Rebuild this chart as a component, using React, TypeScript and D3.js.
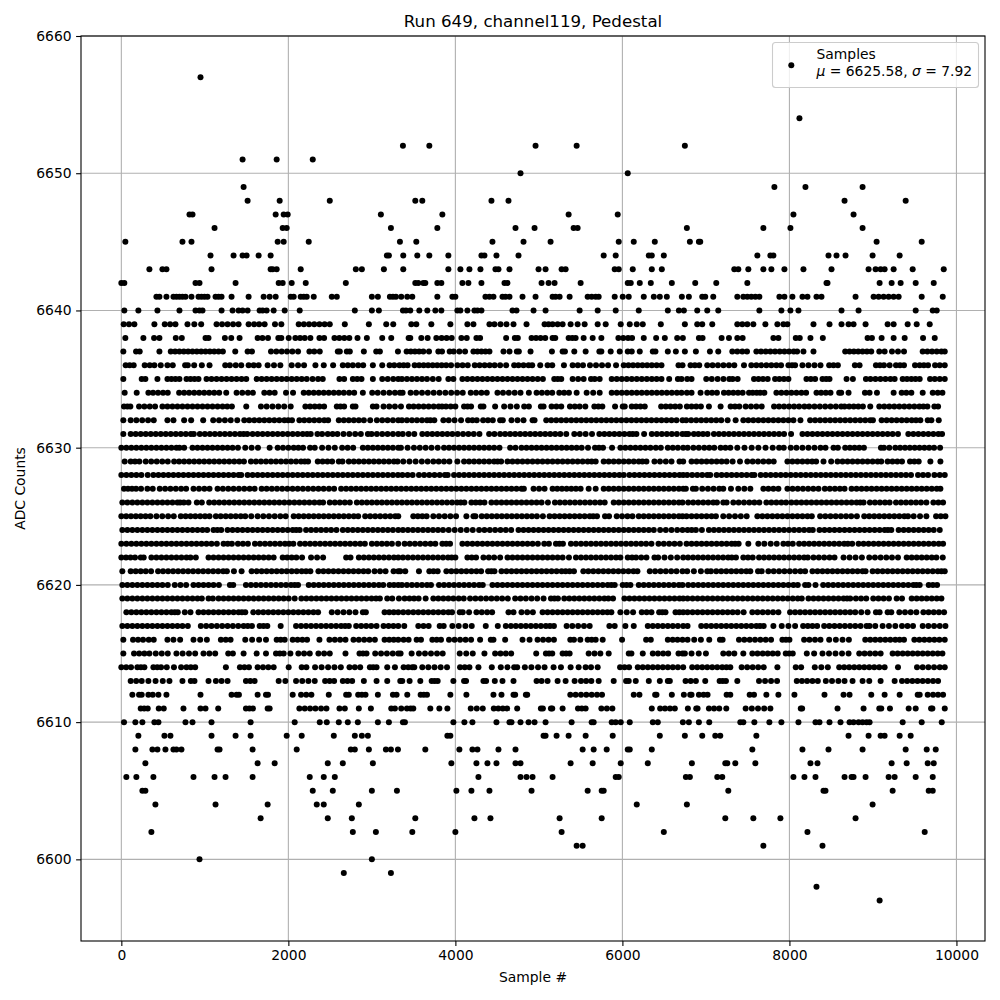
import * as d3 from "d3";
import React, { useEffect, useRef } from "react";

// sample numbers, one list per ADC level
const adc6657 = [948];
const adc6654 = [8120];
const adc6652 = [3372, 3688, 4960, 5452, 6748];
const adc6651 = [1452, 1860, 2292];
const adc6650 = [4780, 6064];
const adc6649 = [1464, 7820, 8192, 8876];
const adc6648 = [1512, 1896, 2496, 3520, 3604, 4432, 4636, 8660, 9392];
const adc6647 = [816, 852, 1848, 1944, 1992, 3108, 3844, 5356, 5944, 8048, 8768];
const adc6646 = [1116, 1932, 1980, 3228, 3784, 4720, 4948, 5416, 5464, 6772, 7688, 8012, 8876];
const adc6645 = [48, 732, 840, 1872, 1944, 2244, 3336, 3532, 4444, 4816, 5140, 5956, 6136, 6388, 6808, 6916, 6932, 9044, 9584];
const adc6644 = [1068, 1344, 1452, 1500, 1644, 1788, 3180, 3204, 3376, 3544, 3688, 3916, 4312, 4348, 4492, 4756, 5776, 5920, 6316, 6352, 6496, 7616, 7772, 7808, 8468, 8564, 8672, 8996, 9320];
const adc6643 = [336, 492, 540, 1080, 1788, 1812, 1860, 2148, 2808, 2880, 3144, 3376, 3916, 4060, 4168, 4300, 4480, 4516, 4648, 4996, 5080, 5272, 5320, 5908, 5956, 6124, 6352, 6472, 7340, 7388, 7508, 7688, 7784, 7940, 8168, 8504, 8948, 9032, 9092, 9140, 9248, 9476, 9848];
const adc6642 = [0, 36, 888, 936, 1368, 1884, 1932, 2040, 2208, 2688, 3520, 3556, 3616, 3640, 3784, 3832, 4084, 4156, 4312, 4588, 4624, 5032, 5116, 5188, 5500, 6064, 6100, 6208, 6340, 6592, 6872, 7124, 7496, 8444, 8456, 9080, 9224, 9332, 9512, 9728];
const adc6641 = [420, 456, 540, 624, 660, 696, 732, 768, 840, 924, 960, 996, 1032, 1128, 1164, 1200, 1320, 1524, 1704, 1776, 1848, 2028, 2064, 2148, 2184, 2220, 2304, 2520, 2580, 3000, 3072, 3216, 3252, 3288, 3352, 3424, 3484, 3784, 3964, 4000, 4360, 4408, 4456, 4564, 4600, 4648, 4804, 4960, 5164, 5200, 5248, 5368, 5584, 5632, 5680, 5716, 5908, 6004, 6076, 6256, 6376, 6448, 6532, 6712, 6796, 6956, 6992, 7088, 7376, 7448, 7496, 7544, 7592, 7640, 7880, 7940, 8036, 8156, 8216, 8324, 8384, 8792, 9008, 9068, 9128, 9188, 9248, 9308, 9584, 9836];
const adc6640 = [36, 204, 432, 696, 888, 936, 972, 1200, 1332, 1404, 1452, 1512, 1656, 1692, 1740, 1824, 1956, 2136, 2796, 3000, 3084, 3372, 3408, 3460, 3568, 3664, 3760, 3832, 4024, 4060, 4144, 4228, 4264, 4312, 4684, 4732, 4936, 5080, 5488, 5704, 5920, 6196, 6544, 6676, 6736, 6896, 7016, 7148, 7640, 7904, 8012, 8108, 8624, 8828, 9512, 9716, 9764];
const adc6639 = [28, 92, 156, 396, 520, 584, 648, 792, 874, 956, 1140, 1206, 1272, 1338, 1404, 1524, 1590, 1650, 1716, 1840, 1916, 2124, 2186, 2248, 2310, 2372, 2434, 2496, 2676, 2964, 3172, 3256, 3472, 3532, 3712, 3940, 4144, 4216, 4408, 4468, 4540, 4612, 4696, 4852, 5068, 5116, 5164, 5224, 5284, 5380, 5464, 5548, 5704, 5800, 5980, 6088, 6172, 6244, 6460, 6748, 6896, 6956, 7076, 7376, 7436, 7496, 7568, 7712, 7856, 7928, 7976, 8288, 8480, 8624, 8708, 8768, 8912, 9176, 9248, 9416, 9524, 9680];
const adc6638 = [48, 264, 392, 456, 652, 724, 1008, 1044, 1240, 1316, 1416, 1632, 1690, 1756, 1880, 1916, 2004, 2084, 2140, 2196, 2264, 2372, 2428, 2552, 2610, 2670, 2730, 2828, 2940, 3124, 3232, 3440, 3460, 3592, 3668, 3772, 3835, 3895, 3956, 4072, 4136, 4252, 4296, 4608, 4712, 4748, 4912, 4966, 5020, 5076, 5164, 5196, 5356, 5400, 5440, 5536, 5644, 5748, 5952, 6010, 6068, 6116, 6256, 6404, 6508, 6656, 6724, 6916, 6960, 7188, 7276, 7376, 7440, 7808, 7868, 8076, 8124, 8252, 8400, 8936, 8988, 9104, 9248, 9380, 9600, 9740];
const adc6637 = [24, 176, 220, 456, 592, 644, 696, 748, 800, 852, 904, 956, 1008, 1060, 1112, 1164, 1216, 1364, 1512, 1564, 1792, 1856, 1920, 1984, 2048, 2116, 2252, 2310, 2376, 2592, 2616, 2700, 2736, 2904, 3052, 3096, 3312, 3416, 3466, 3516, 3566, 3616, 3684, 3796, 3840, 3932, 3980, 4048, 4116, 4216, 4264, 4312, 4360, 4408, 4576, 4648, 4736, 4760, 4900, 5156, 5284, 5312, 5424, 5560, 5724, 5748, 5860, 5968, 6064, 6112, 6208, 6364, 6396, 6544, 6640, 6748, 6880, 7048, 7148, 7316, 7376, 7436, 7492, 7604, 7660, 7716, 7772, 7828, 7884, 7940, 7996, 8052, 8092, 8168, 8288, 8668, 8720, 8772, 8824, 8876, 8928, 8980, 9076, 9140, 9228, 9300, 9372, 9596, 9652, 9708, 9764, 9820, 9860];
const adc6636 = [52, 100, 148, 280, 340, 396, 472, 552, 616, 764, 796, 872, 964, 1056, 1244, 1300, 1370, 1436, 1524, 1584, 1644, 1752, 1828, 1904, 2040, 2116, 2188, 2324, 2424, 2536, 2652, 2712, 2772, 2836, 2896, 3012, 3124, 3212, 3268, 3330, 3380, 3428, 3512, 3566, 3620, 3674, 3728, 3782, 3836, 3890, 3948, 4024, 4086, 4148, 4232, 4290, 4350, 4410, 4470, 4536, 4608, 4704, 4756, 4816, 4876, 4920, 5016, 5104, 5160, 5300, 5404, 5466, 5528, 5612, 5684, 5756, 5828, 5924, 6016, 6072, 6128, 6184, 6240, 6296, 6352, 6410, 6468, 6672, 6720, 6816, 6868, 6920, 7016, 7080, 7144, 7210, 7276, 7340, 7456, 7544, 7604, 7664, 7724, 7784, 7844, 7900, 7988, 8032, 8068, 8156, 8228, 8300, 8372, 8476, 8528, 8580, 8784, 8840, 9036, 9084, 9132, 9200, 9276, 9324, 9372, 9504, 9560, 9610, 9660, 9744, 9800, 9860];
const adc6635 = [24, 244, 288, 432, 552, 600, 648, 696, 780, 828, 876, 924, 1020, 1080, 1140, 1200, 1260, 1320, 1380, 1440, 1496, 1620, 1680, 1740, 1800, 1860, 1920, 1980, 2040, 2100, 2160, 2220, 2290, 2356, 2412, 2612, 2668, 2772, 2824, 2876, 3012, 3124, 3190, 3256, 3316, 3360, 3420, 3480, 3540, 3600, 3660, 3730, 3800, 3916, 3976, 4084, 4144, 4204, 4264, 4324, 4384, 4444, 4504, 4564, 4624, 4684, 4744, 4804, 4864, 4924, 4986, 5048, 5184, 5226, 5268, 5404, 5470, 5536, 5624, 5668, 5728, 5872, 5932, 5992, 6052, 6112, 6172, 6232, 6292, 6352, 6410, 6468, 6560, 6664, 6708, 6776, 6828, 7004, 7070, 7140, 7210, 7280, 7320, 7380, 7576, 7630, 7684, 7740, 7828, 7880, 7934, 7988, 8204, 8256, 8308, 8396, 8440, 8480, 8684, 8760, 8916, 8970, 9030, 9090, 9150, 9210, 9260, 9356, 9408, 9460, 9510, 9560, 9684, 9740, 9800, 9860];
const adc6634 = [40, 184, 324, 380, 440, 500, 556, 692, 752, 812, 872, 932, 992, 1052, 1112, 1172, 1256, 1380, 1448, 1516, 1576, 1712, 1774, 1836, 1972, 2056, 2184, 2244, 2304, 2364, 2424, 2484, 2544, 2604, 2664, 2728, 2788, 2892, 3004, 3070, 3140, 3210, 3276, 3336, 3368, 3464, 3530, 3600, 3670, 3740, 3810, 3880, 3950, 4020, 4088, 4184, 4248, 4312, 4376, 4504, 4570, 4640, 4710, 4780, 4880, 4972, 5036, 5100, 5160, 5244, 5302, 5360, 5452, 5572, 5650, 5728, 5872, 5932, 5992, 6052, 6112, 6172, 6232, 6292, 6352, 6412, 6472, 6532, 6592, 6652, 6708, 6772, 6828, 6936, 7016, 7074, 7132, 7216, 7272, 7328, 7384, 7440, 7516, 7560, 7608, 7650, 7700, 7844, 7904, 7964, 8024, 8084, 8144, 8200, 8324, 8380, 8436, 8492, 8596, 8620, 8708, 8904, 8960, 9048, 9248, 9344, 9400, 9460, 9596, 9716, 9776, 9832];
const adc6633 = [32, 72, 108, 212, 276, 340, 404, 492, 552, 612, 672, 732, 792, 852, 912, 972, 1032, 1092, 1152, 1212, 1268, 1324, 1496, 1672, 1740, 1810, 1880, 1950, 2028, 2204, 2260, 2316, 2372, 2428, 2580, 2624, 2668, 2772, 2804, 3012, 3056, 3140, 3208, 3276, 3348, 3444, 3500, 3560, 3620, 3680, 3740, 3800, 3840, 3888, 3944, 4000, 4104, 4146, 4188, 4304, 4336, 4476, 4584, 4660, 4736, 4824, 4880, 5024, 5056, 5152, 5210, 5268, 5372, 5430, 5488, 5556, 5664, 5712, 5760, 5912, 6004, 6028, 6112, 6164, 6216, 6268, 6464, 6520, 6576, 6632, 6688, 6772, 6828, 6884, 6940, 7036, 7176, 7296, 7348, 7400, 7476, 7540, 7604, 7668, 7816, 7876, 7936, 7996, 8056, 8116, 8180, 8236, 8300, 8364, 8428, 8492, 8556, 8620, 8660, 8716, 8770, 8825, 8880, 8968, 9076, 9136, 9196, 9256, 9316, 9376, 9436, 9496, 9556, 9604, 9652, 9736, 9780];
const adc6632 = [24, 112, 180, 250, 320, 388, 552, 624, 752, 836, 980, 1100, 1170, 1240, 1310, 1388, 1472, 1532, 1592, 1652, 1712, 1772, 1832, 1892, 1952, 1998, 2044, 2132, 2190, 2250, 2310, 2370, 2430, 2476, 2604, 2664, 2724, 2784, 2844, 2904, 2980, 3060, 3124, 3188, 3252, 3316, 3360, 3420, 3480, 3540, 3600, 3660, 3700, 3748, 3856, 3920, 3990, 4068, 4152, 4204, 4256, 4332, 4390, 4448, 4536, 4568, 4672, 4744, 4816, 4924, 4948, 5088, 5148, 5208, 5268, 5328, 5388, 5448, 5508, 5568, 5628, 5688, 5748, 5808, 5868, 5928, 5988, 6048, 6108, 6168, 6228, 6288, 6348, 6408, 6468, 6528, 6588, 6648, 6720, 6764, 6824, 6884, 6944, 7004, 7064, 7124, 7184, 7260, 7356, 7448, 7508, 7568, 7628, 7688, 7748, 7808, 7868, 7928, 7988, 8048, 8132, 8248, 8308, 8368, 8428, 8488, 8548, 8608, 8668, 8728, 8788, 8848, 8908, 8968, 9000, 9104, 9164, 9224, 9284, 9344, 9404, 9464, 9516, 9568, 9656, 9700, 9788];
const adc6631 = [24, 112, 172, 232, 292, 352, 412, 472, 532, 592, 652, 712, 772, 832, 868, 940, 1000, 1060, 1120, 1180, 1240, 1300, 1360, 1420, 1464, 1508, 1572, 1632, 1692, 1752, 1812, 1872, 1932, 1992, 2052, 2112, 2172, 2224, 2268, 2348, 2404, 2472, 2530, 2588, 2660, 2730, 2800, 2868, 2952, 2996, 3060, 3124, 3188, 3252, 3316, 3370, 3440, 3508, 3604, 3664, 3724, 3784, 3844, 3904, 3964, 4028, 4092, 4156, 4220, 4288, 4404, 4468, 4536, 4596, 4656, 4716, 4776, 4836, 4896, 4956, 5016, 5076, 5136, 5196, 5256, 5328, 5424, 5490, 5560, 5636, 5724, 5784, 5844, 5904, 5964, 6024, 6084, 6124, 6168, 6260, 6352, 6412, 6472, 6532, 6592, 6652, 6720, 6760, 6788, 6856, 6910, 6965, 7020, 7096, 7156, 7216, 7276, 7336, 7396, 7456, 7516, 7576, 7636, 7696, 7756, 7816, 7876, 7936, 8020, 8156, 8216, 8276, 8336, 8396, 8456, 8516, 8576, 8636, 8696, 8756, 8816, 8876, 8936, 8996, 9056, 9116, 9176, 9236, 9300, 9424, 9484, 9544, 9604, 9664, 9724, 9784, 9828];
const adc6630 = [0, 60, 120, 180, 240, 300, 360, 420, 480, 540, 600, 660, 696, 752, 852, 912, 972, 1032, 1092, 1152, 1212, 1272, 1332, 1396, 1484, 1560, 1636, 1776, 1872, 1936, 2000, 2064, 2120, 2176, 2260, 2316, 2404, 2480, 2556, 2644, 2710, 2776, 2892, 2952, 3012, 3072, 3132, 3192, 3252, 3316, 3348, 3428, 3504, 3574, 3644, 3714, 3788, 3864, 3924, 3984, 4044, 4104, 4164, 4224, 4284, 4344, 4404, 4464, 4528, 4656, 4720, 4792, 4852, 4912, 4972, 5032, 5092, 5152, 5212, 5272, 5332, 5392, 5452, 5512, 5588, 5672, 5720, 5768, 5876, 5976, 6036, 6096, 6156, 6216, 6276, 6336, 6400, 6460, 6544, 6604, 6664, 6728, 6782, 6850, 6915, 6980, 7040, 7100, 7176, 7234, 7292, 7376, 7462, 7548, 7628, 7714, 7800, 7876, 7932, 8016, 8084, 8156, 8228, 8300, 8372, 8432, 8528, 8580, 8668, 8724, 8780, 8836, 8892, 9096, 9132, 9196, 9268, 9326, 9384, 9442, 9500, 9558, 9616, 9674, 9732, 9804];
const adc6629 = [40, 112, 164, 216, 292, 358, 424, 490, 556, 632, 692, 752, 812, 872, 932, 992, 1052, 1112, 1172, 1232, 1292, 1352, 1412, 1468, 1552, 1612, 1672, 1732, 1792, 1852, 1912, 1972, 2032, 2092, 2152, 2196, 2236, 2352, 2410, 2468, 2524, 2604, 2648, 2724, 2784, 2844, 2904, 2964, 3024, 3084, 3144, 3204, 3264, 3308, 3376, 3450, 3524, 3598, 3668, 3736, 3800, 3864, 3928, 4024, 4104, 4164, 4224, 4284, 4344, 4404, 4464, 4506, 4548, 4624, 4684, 4744, 4804, 4864, 4924, 4984, 5044, 5104, 5164, 5224, 5284, 5344, 5404, 5464, 5524, 5584, 5632, 5680, 5776, 5836, 5896, 5956, 6016, 6076, 6136, 6196, 6240, 6288, 6384, 6450, 6520, 6588, 6684, 6728, 6828, 6888, 6948, 7008, 7068, 7128, 7188, 7248, 7320, 7408, 7496, 7560, 7624, 7688, 7752, 7812, 7976, 8036, 8096, 8156, 8216, 8272, 8320, 8408, 8500, 8576, 8636, 8696, 8756, 8816, 8876, 8936, 8996, 9056, 9100, 9176, 9234, 9292, 9348, 9444, 9496, 9548, 9688, 9808];
const adc6628 = [0, 60, 120, 180, 240, 316, 384, 444, 504, 564, 624, 684, 744, 804, 864, 924, 984, 1044, 1104, 1164, 1224, 1284, 1344, 1404, 1436, 1512, 1572, 1632, 1692, 1752, 1812, 1872, 1932, 1992, 2052, 2112, 2172, 2232, 2292, 2352, 2412, 2472, 2532, 2592, 2652, 2712, 2772, 2832, 2892, 2952, 3012, 3072, 3132, 3192, 3252, 3312, 3366, 3428, 3488, 3564, 3626, 3688, 3750, 3812, 3874, 3908, 3984, 4044, 4104, 4164, 4224, 4284, 4344, 4404, 4464, 4524, 4584, 4644, 4704, 4764, 4824, 4884, 4944, 5004, 5064, 5124, 5184, 5244, 5304, 5364, 5424, 5484, 5544, 5604, 5664, 5724, 5784, 5844, 5904, 5964, 6016, 6084, 6144, 6204, 6264, 6324, 6384, 6444, 6504, 6564, 6624, 6684, 6728, 6776, 6836, 6896, 6956, 7016, 7052, 7128, 7188, 7248, 7308, 7368, 7428, 7488, 7548, 7580, 7656, 7716, 7776, 7836, 7896, 7956, 8016, 8076, 8136, 8196, 8256, 8316, 8376, 8436, 8496, 8556, 8616, 8676, 8736, 8796, 8856, 8916, 8976, 9036, 9096, 9156, 9216, 9276, 9336, 9396, 9456, 9540, 9600, 9660, 9736, 9800, 9860];
const adc6627 = [32, 80, 128, 176, 236, 312, 376, 460, 524, 588, 652, 716, 776, 864, 930, 994, 1056, 1152, 1216, 1280, 1344, 1408, 1472, 1536, 1596, 1680, 1740, 1802, 1864, 1926, 1988, 2050, 2112, 2174, 2236, 2298, 2360, 2422, 2486, 2548, 2632, 2692, 2752, 2812, 2872, 2932, 2992, 3052, 3112, 3172, 3232, 3292, 3352, 3412, 3472, 3532, 3592, 3652, 3712, 3772, 3832, 3892, 3952, 4012, 4072, 4132, 4192, 4252, 4312, 4372, 4432, 4492, 4552, 4612, 4672, 4732, 4792, 4820, 4936, 5002, 5068, 5164, 5220, 5276, 5332, 5388, 5444, 5500, 5596, 5680, 5776, 5836, 5896, 5956, 6016, 6076, 6136, 6196, 6256, 6316, 6376, 6436, 6496, 6556, 6616, 6676, 6728, 6760, 6844, 6880, 6956, 7024, 7092, 7160, 7208, 7300, 7388, 7460, 7532, 7688, 7748, 7808, 7868, 7976, 8038, 8100, 8162, 8224, 8286, 8348, 8424, 8484, 8544, 8604, 8660, 8744, 8804, 8864, 8924, 8984, 9044, 9104, 9164, 9224, 9284, 9344, 9404, 9464, 9524, 9584, 9644, 9704, 9764, 9808];
const adc6626 = [12, 72, 132, 192, 252, 312, 372, 432, 492, 552, 612, 672, 704, 748, 804, 904, 964, 1052, 1112, 1172, 1232, 1292, 1352, 1412, 1472, 1532, 1592, 1652, 1712, 1772, 1832, 1892, 1952, 2012, 2072, 2132, 2192, 2252, 2312, 2372, 2416, 2496, 2556, 2616, 2676, 2736, 2820, 2880, 2940, 3000, 3060, 3120, 3180, 3240, 3300, 3360, 3420, 3480, 3540, 3600, 3660, 3720, 3780, 3840, 3900, 3960, 4020, 4064, 4108, 4192, 4244, 4296, 4348, 4432, 4492, 4552, 4612, 4672, 4732, 4792, 4852, 4912, 4972, 5032, 5108, 5192, 5252, 5312, 5372, 5432, 5492, 5552, 5612, 5672, 5732, 5788, 5896, 5956, 6016, 6076, 6136, 6196, 6256, 6316, 6376, 6436, 6496, 6556, 6616, 6676, 6720, 6788, 6848, 6908, 6968, 7028, 7088, 7132, 7208, 7248, 7328, 7392, 7456, 7520, 7580, 7640, 7724, 7784, 7844, 7904, 7960, 8024, 8084, 8144, 8204, 8264, 8324, 8384, 8444, 8504, 8564, 8624, 8684, 8744, 8804, 8848, 8888, 8964, 9024, 9084, 9144, 9200, 9276, 9336, 9396, 9456, 9516, 9576, 9640, 9724, 9784, 9840];
const adc6625 = [0, 58, 116, 174, 232, 290, 348, 420, 490, 560, 628, 712, 770, 828, 886, 944, 1002, 1056, 1132, 1190, 1250, 1310, 1370, 1430, 1484, 1556, 1632, 1700, 1768, 1836, 1904, 1968, 2064, 2124, 2184, 2244, 2304, 2364, 2424, 2484, 2544, 2604, 2664, 2724, 2784, 2836, 2920, 2980, 3040, 3100, 3160, 3220, 3280, 3316, 3496, 3550, 3604, 3656, 3736, 3804, 3872, 3940, 4008, 4132, 4216, 4240, 4316, 4376, 4436, 4496, 4556, 4616, 4676, 4736, 4796, 4856, 4916, 4976, 5048, 5128, 5188, 5248, 5308, 5368, 5428, 5488, 5548, 5608, 5650, 5696, 5792, 5840, 5932, 5996, 6060, 6120, 6196, 6256, 6316, 6376, 6436, 6496, 6556, 6616, 6676, 6720, 6768, 6828, 6888, 6948, 7008, 7068, 7120, 7208, 7278, 7348, 7418, 7488, 7616, 7676, 7736, 7796, 7856, 7916, 7976, 8036, 8096, 8156, 8216, 8268, 8368, 8430, 8492, 8554, 8616, 8678, 8740, 8808, 8896, 8956, 9016, 9076, 9136, 9196, 9256, 9316, 9376, 9420, 9488, 9564, 9640, 9756, 9812, 9868];
const adc6624 = [12, 72, 132, 192, 252, 312, 372, 432, 492, 552, 612, 672, 732, 792, 852, 912, 972, 1028, 1104, 1150, 1196, 1272, 1332, 1392, 1452, 1512, 1572, 1632, 1692, 1752, 1812, 1872, 1932, 1992, 2052, 2094, 2136, 2212, 2272, 2332, 2392, 2452, 2512, 2576, 2652, 2712, 2772, 2832, 2892, 2952, 3012, 3072, 3132, 3192, 3252, 3316, 3372, 3432, 3492, 3552, 3612, 3672, 3732, 3792, 3852, 3920, 3992, 4064, 4136, 4208, 4284, 4348, 4412, 4476, 4540, 4604, 4668, 4756, 4816, 4876, 4936, 4996, 5056, 5116, 5176, 5236, 5296, 5356, 5416, 5476, 5536, 5596, 5656, 5716, 5776, 5836, 5896, 5956, 6016, 6076, 6136, 6196, 6256, 6316, 6376, 6452, 6520, 6588, 6656, 6720, 6780, 6830, 6880, 6952, 7036, 7096, 7156, 7216, 7276, 7336, 7396, 7456, 7516, 7576, 7636, 7696, 7756, 7816, 7876, 7936, 7996, 8056, 8116, 8176, 8236, 8280, 8360, 8420, 8480, 8540, 8600, 8660, 8720, 8780, 8840, 8900, 8960, 9020, 9080, 9140, 9180, 9220, 9308, 9368, 9428, 9488, 9548, 9608, 9668, 9728, 9800];
const adc6623 = [0, 60, 120, 180, 240, 300, 360, 420, 480, 540, 600, 660, 720, 780, 840, 900, 960, 1020, 1080, 1144, 1224, 1274, 1324, 1396, 1456, 1516, 1600, 1660, 1720, 1780, 1840, 1900, 1960, 2010, 2060, 2140, 2200, 2260, 2320, 2380, 2440, 2500, 2560, 2620, 2680, 2740, 2800, 2860, 2916, 3000, 3060, 3120, 3180, 3240, 3316, 3392, 3454, 3516, 3578, 3640, 3702, 3760, 3844, 3890, 3936, 4084, 4144, 4204, 4264, 4324, 4384, 4444, 4504, 4564, 4624, 4684, 4744, 4804, 4864, 4924, 4988, 5064, 5120, 5204, 5246, 5288, 5384, 5444, 5504, 5564, 5624, 5684, 5744, 5804, 5864, 5924, 5984, 6044, 6104, 6164, 6224, 6284, 6348, 6432, 6496, 6560, 6624, 6688, 6768, 6828, 6888, 6948, 7008, 7068, 7128, 7188, 7248, 7308, 7350, 7392, 7508, 7628, 7700, 7776, 7848, 7928, 7984, 8040, 8116, 8176, 8236, 8296, 8356, 8416, 8476, 8536, 8596, 8656, 8700, 8752, 8828, 8888, 8948, 9008, 9068, 9128, 9188, 9248, 9308, 9368, 9428, 9488, 9548, 9608, 9668, 9728, 9788, 9840];
const adc6622 = [0, 56, 110, 164, 232, 268, 360, 420, 480, 540, 600, 660, 720, 780, 828, 892, 1044, 1104, 1164, 1224, 1284, 1344, 1404, 1464, 1524, 1584, 1644, 1704, 1764, 1824, 1932, 1986, 2040, 2096, 2164, 2272, 2344, 2416, 2692, 2744, 2844, 2904, 2964, 3024, 3084, 3144, 3204, 3264, 3316, 3372, 3432, 3492, 3552, 3612, 3672, 3732, 3792, 3852, 3912, 3956, 4000, 4144, 4196, 4248, 4336, 4400, 4464, 4536, 4624, 4684, 4744, 4804, 4864, 4924, 4984, 5044, 5104, 5164, 5224, 5284, 5360, 5444, 5504, 5564, 5624, 5684, 5744, 5804, 5864, 5924, 5976, 6064, 6116, 6164, 6226, 6288, 6384, 6428, 6504, 6580, 6656, 6728, 6786, 6846, 6906, 6966, 7026, 7086, 7146, 7206, 7266, 7310, 7360, 7448, 7504, 7560, 7636, 7696, 7756, 7816, 7876, 7936, 7996, 8056, 8116, 8176, 8220, 8288, 8352, 8416, 8480, 8540, 8648, 8720, 8792, 8868, 8956, 9024, 9092, 9160, 9228, 9300, 9404, 9464, 9524, 9584, 9644, 9704, 9760, 9836];
const adc6621 = [12, 112, 172, 232, 292, 356, 440, 500, 560, 620, 680, 740, 800, 860, 920, 980, 1040, 1100, 1160, 1220, 1264, 1348, 1440, 1560, 1620, 1680, 1740, 1800, 1860, 1920, 1980, 2040, 2100, 2160, 2212, 2264, 2360, 2420, 2480, 2540, 2600, 2660, 2720, 2780, 2840, 2900, 2956, 3032, 3098, 3164, 3260, 3316, 3340, 3400, 3564, 3688, 3738, 3788, 3892, 3952, 4012, 4072, 4132, 4192, 4252, 4308, 4392, 4430, 4468, 4552, 4612, 4672, 4732, 4792, 4852, 4912, 4972, 5032, 5092, 5152, 5212, 5272, 5320, 5368, 5420, 5532, 5592, 5652, 5712, 5772, 5832, 5892, 5952, 6012, 6072, 6132, 6180, 6328, 6392, 6456, 6520, 6584, 6648, 6720, 6776, 6856, 6940, 7016, 7060, 7124, 7184, 7244, 7304, 7364, 7424, 7484, 7532, 7624, 7668, 7748, 7812, 7876, 7940, 8004, 8068, 8132, 8188, 8276, 8336, 8396, 8456, 8516, 8576, 8636, 8696, 8756, 8816, 8876, 8912, 8996, 9056, 9116, 9176, 9236, 9296, 9356, 9416, 9476, 9536, 9596, 9656, 9716, 9776, 9820, 9860];
const adc6620 = [12, 72, 132, 192, 252, 312, 372, 432, 492, 556, 640, 708, 776, 864, 924, 984, 1044, 1104, 1168, 1300, 1340, 1492, 1552, 1612, 1672, 1732, 1792, 1852, 1912, 1972, 2032, 2076, 2116, 2244, 2304, 2364, 2424, 2484, 2544, 2604, 2664, 2724, 2784, 2844, 2904, 2964, 3024, 3084, 3136, 3212, 3264, 3316, 3360, 3420, 3480, 3540, 3600, 3660, 3708, 3804, 3864, 3924, 3984, 4044, 4104, 4164, 4224, 4284, 4328, 4444, 4504, 4564, 4624, 4684, 4744, 4804, 4864, 4924, 4984, 5044, 5104, 5164, 5224, 5284, 5344, 5404, 5464, 5524, 5584, 5644, 5704, 5764, 5824, 5868, 5908, 6004, 6050, 6096, 6196, 6256, 6316, 6376, 6436, 6496, 6556, 6616, 6676, 6720, 6788, 6848, 6908, 6968, 7028, 7088, 7148, 7208, 7268, 7328, 7388, 7448, 7508, 7568, 7628, 7688, 7748, 7808, 7868, 7928, 7988, 8048, 8100, 8188, 8228, 8312, 8404, 8464, 8524, 8584, 8644, 8704, 8764, 8824, 8884, 8944, 9004, 9064, 9124, 9184, 9244, 9304, 9364, 9424, 9484, 9520, 9560, 9668, 9718, 9768];
const adc6619 = [12, 72, 132, 192, 252, 312, 372, 432, 492, 552, 612, 672, 732, 792, 852, 912, 964, 1044, 1096, 1164, 1224, 1284, 1344, 1404, 1464, 1524, 1584, 1644, 1704, 1764, 1824, 1884, 1944, 2004, 2076, 2156, 2216, 2276, 2336, 2396, 2456, 2516, 2576, 2636, 2696, 2756, 2816, 2876, 2936, 2996, 3050, 3096, 3184, 3244, 3324, 3392, 3450, 3505, 3560, 3644, 3736, 3796, 3856, 3916, 3976, 4040, 4100, 4176, 4240, 4304, 4368, 4432, 4496, 4560, 4628, 4716, 4780, 4844, 4912, 4980, 5056, 5144, 5186, 5228, 5304, 5364, 5424, 5484, 5544, 5604, 5664, 5724, 5784, 5832, 5888, 6024, 6084, 6144, 6204, 6264, 6324, 6384, 6444, 6504, 6564, 6624, 6684, 6728, 6780, 6840, 6900, 6960, 7020, 7080, 7140, 7200, 7260, 7320, 7380, 7440, 7500, 7560, 7620, 7680, 7740, 7800, 7860, 7920, 7980, 8040, 8100, 8148, 8228, 8288, 8348, 8408, 8468, 8528, 8588, 8648, 8690, 8728, 8796, 8858, 8920, 9004, 9066, 9128, 9192, 9284, 9348, 9464, 9524, 9584, 9644, 9704, 9764, 9820];
const adc6618 = [60, 120, 180, 240, 300, 360, 420, 480, 540, 600, 640, 676, 760, 828, 924, 984, 1044, 1104, 1164, 1224, 1284, 1344, 1404, 1444, 1484, 1580, 1640, 1700, 1760, 1820, 1880, 1940, 2000, 2060, 2120, 2180, 2240, 2300, 2356, 2520, 2590, 2660, 2730, 2804, 2892, 2928, 3152, 3208, 3262, 3316, 3376, 3436, 3496, 3556, 3616, 3676, 3736, 3796, 3856, 3916, 3960, 4052, 4088, 4164, 4252, 4316, 4380, 4440, 4636, 4696, 4792, 4860, 4928, 5044, 5104, 5164, 5224, 5284, 5344, 5404, 5464, 5524, 5584, 5644, 5704, 5764, 5820, 5868, 5976, 6052, 6128, 6232, 6290, 6348, 6440, 6478, 6516, 6636, 6682, 6728, 6780, 6840, 6900, 6960, 7020, 7080, 7140, 7200, 7260, 7320, 7380, 7452, 7556, 7618, 7680, 7742, 7804, 7868, 8008, 8068, 8128, 8188, 8248, 8308, 8368, 8428, 8488, 8548, 8608, 8668, 8728, 8788, 8860, 8936, 9036, 9080, 9176, 9220, 9316, 9384, 9452, 9520, 9604, 9666, 9728, 9790, 9852];
const adc6617 = [12, 72, 132, 192, 252, 312, 372, 432, 492, 552, 612, 672, 732, 796, 952, 1016, 1080, 1144, 1208, 1272, 1336, 1400, 1464, 1514, 1564, 1656, 1702, 1748, 1908, 2092, 2152, 2212, 2272, 2332, 2392, 2452, 2512, 2572, 2632, 2680, 2724, 2812, 2872, 2932, 2992, 3056, 3140, 3200, 3258, 3316, 3388, 3556, 3618, 3680, 3812, 3860, 3964, 4040, 4120, 4196, 4364, 4508, 4604, 4664, 4724, 4784, 4844, 4904, 4964, 5024, 5084, 5132, 5180, 5332, 5400, 5470, 5540, 5608, 5844, 5908, 6036, 6136, 6304, 6364, 6424, 6484, 6544, 6604, 6664, 6728, 6780, 6944, 7004, 7064, 7124, 7184, 7244, 7304, 7364, 7424, 7484, 7544, 7604, 7648, 7692, 7808, 7908, 7988, 8068, 8164, 8220, 8276, 8332, 8416, 8478, 8540, 8602, 8664, 8726, 8788, 8852, 8924, 8960, 9028, 9116, 9192, 9268, 9348, 9414, 9480, 9596, 9664, 9732, 9800, 9868];
const adc6616 = [24, 140, 200, 260, 328, 388, 552, 624, 704, 864, 944, 1024, 1192, 1250, 1308, 1484, 1566, 1650, 1732, 1860, 1908, 1956, 2052, 2110, 2168, 2224, 2372, 2492, 2556, 2620, 2684, 2780, 2844, 2908, 2972, 3036, 3152, 3208, 3262, 3316, 3380, 3440, 3536, 3588, 3724, 3776, 3828, 3924, 3990, 4056, 4122, 4188, 4296, 4424, 4456, 4596, 4804, 4888, 4984, 5050, 5116, 5180, 5376, 5420, 5496, 5584, 5632, 5680, 5764, 5996, 6284, 6340, 6544, 6602, 6660, 6720, 6780, 6860, 6940, 7040, 7168, 7200, 7396, 7460, 7524, 7588, 7652, 7716, 7780, 7916, 7958, 8000, 8176, 8240, 8306, 8372, 8476, 8556, 8636, 8712, 8908, 8968, 9028, 9088, 9148, 9208, 9268, 9320, 9372, 9496, 9556, 9616, 9676, 9736, 9796, 9860];
const adc6615 = [24, 152, 214, 276, 336, 412, 484, 556, 660, 734, 810, 884, 984, 1054, 1124, 1280, 1336, 1464, 1620, 1732, 1852, 1898, 1944, 2024, 2120, 2188, 2256, 2360, 2428, 2496, 2684, 2852, 2894, 2936, 3040, 3110, 3180, 3250, 3316, 3344, 3476, 3564, 3636, 3708, 3780, 3848, 4052, 4130, 4208, 4348, 4476, 4540, 4604, 4668, 4968, 5084, 5122, 5160, 5284, 5326, 5368, 5596, 5666, 5736, 5836, 6076, 6108, 6244, 6364, 6426, 6488, 6548, 6672, 6720, 6748, 6828, 6914, 7000, 7208, 7274, 7340, 7448, 7556, 7618, 7680, 7740, 7800, 7860, 7956, 7998, 8040, 8208, 8296, 8396, 8474, 8552, 8630, 8708, 8836, 8900, 8964, 9028, 9092, 9236, 9296, 9356, 9416, 9476, 9536, 9596, 9656, 9716, 9776, 9832];
const adc6614 = [0, 58, 116, 192, 234, 276, 384, 430, 476, 544, 630, 716, 780, 832, 884, 1252, 1420, 1474, 1528, 1632, 1696, 1760, 1824, 2004, 2160, 2216, 2320, 2398, 2476, 2552, 2628, 2732, 2796, 2860, 2976, 3016, 3056, 3184, 3276, 3380, 3436, 3484, 3508, 3604, 3676, 3750, 3824, 3900, 4056, 4112, 4168, 4276, 4436, 4544, 4624, 4704, 4740, 4832, 4910, 4990, 5068, 5176, 5264, 5380, 5476, 5560, 5624, 5704, 5972, 6026, 6080, 6184, 6244, 6304, 6364, 6424, 6484, 6544, 6604, 6664, 6728, 6836, 6896, 6956, 7016, 7076, 7136, 7196, 7246, 7292, 7428, 7494, 7560, 7626, 7692, 7856, 8076, 8140, 8304, 8382, 8460, 8596, 8656, 8716, 8776, 8836, 8896, 8956, 9016, 9076, 9140, 9300, 9528, 9596, 9664, 9732, 9800, 9860];
const adc6613 = [112, 178, 244, 324, 410, 496, 576, 732, 832, 876, 1044, 1132, 1200, 1272, 1492, 1544, 1596, 1884, 1964, 2092, 2166, 2240, 2316, 2440, 2494, 2548, 2652, 2708, 2764, 2904, 3056, 3184, 3340, 3364, 3452, 3580, 3716, 3752, 3788, 3976, 4104, 4128, 4336, 4368, 4472, 4564, 4696, 4972, 5032, 5104, 5224, 5320, 5428, 5504, 5566, 5628, 5716, 5896, 6044, 6076, 6160, 6316, 6448, 6544, 6568, 6756, 6818, 6880, 6992, 7164, 7202, 7240, 7376, 7636, 7708, 7780, 7852, 8088, 8150, 8212, 8276, 8340, 8436, 8510, 8586, 8660, 8756, 8876, 8956, 9092, 9260, 9348, 9410, 9472, 9534, 9596, 9658, 9720, 9780];
const adc6612 = [132, 212, 244, 324, 376, 444, 540, 948, 1320, 1380, 1408, 1632, 1732, 1756, 2052, 2152, 2214, 2276, 2484, 2692, 2724, 2836, 2880, 2924, 3072, 3252, 3296, 3424, 3584, 3622, 3660, 3940, 4132, 4456, 4552, 4696, 4716, 4844, 4860, 5376, 5440, 5504, 5568, 5632, 5696, 5756, 6136, 6204, 6392, 6408, 6592, 6736, 6812, 6828, 6916, 6972, 7020, 7248, 7292, 7524, 7576, 7724, 7868, 8060, 8420, 8648, 8720, 8980, 9140, 9320, 9536, 9560, 9656, 9720, 9780, 9840];
const adc6611 = [232, 274, 316, 448, 508, 744, 948, 1008, 1160, 1492, 1534, 1576, 1752, 1776, 2132, 2196, 2260, 2324, 2392, 2456, 2612, 2676, 2844, 2988, 3232, 3276, 3352, 3420, 3464, 3496, 3700, 3808, 3904, 4184, 4256, 4328, 4460, 4514, 4568, 4620, 4740, 5024, 5048, 5144, 5160, 5284, 5468, 5514, 5560, 5748, 5814, 5880, 6352, 6452, 6510, 6570, 6628, 6784, 6884, 6900, 7036, 7098, 7160, 7244, 7476, 7550, 7624, 7698, 7772, 8136, 8152, 8576, 8888, 9076, 9100, 9204, 9428, 9512, 9696, 9712, 9860];
const adc6610 = [32, 168, 252, 396, 444, 768, 852, 1080, 1548, 2076, 2376, 2460, 2604, 2712, 2832, 3072, 3204, 3372, 3396, 3976, 4108, 4204, 4492, 4648, 4672, 4780, 4876, 4948, 5080, 5392, 5632, 5656, 5872, 5920, 5980, 6088, 6364, 6424, 6724, 6796, 6916, 7040, 7412, 7448, 7580, 7760, 7904, 8108, 8312, 8360, 8480, 8612, 8720, 8768, 8828, 8876, 8924, 8960, 9356, 9584, 9824];
const adc6609 = [204, 516, 588, 1080, 1368, 1548, 1980, 2160, 2544, 2796, 2880, 2952, 3904, 3940, 5056, 5080, 5212, 5356, 5560, 5884, 6448, 6748, 6956, 7112, 7172, 7604, 8708, 8948, 9092, 9140, 9320, 9452];
const adc6608 = [168, 372, 432, 528, 624, 660, 720, 1152, 1176, 1572, 2100, 2748, 2796, 2964, 3168, 3228, 3312, 3640, 4048, 4204, 4264, 4516, 4720, 5524, 5656, 5812, 6064, 6088, 6352, 7556, 8156, 8468, 8876, 9392, 9644, 9752];
const adc6607 = [288, 1632, 1836, 2472, 2652, 3012, 3952, 4252, 4384, 4492, 4720, 4780, 5380, 5644, 5980, 6304, 6832, 7232, 7256, 7352, 7592, 8252, 8336, 9224, 9404, 9656, 9728];
const adc6606 = [60, 180, 384, 864, 1116, 1248, 1572, 2256, 2424, 2556, 4276, 4780, 4852, 4924, 5164, 5920, 5956, 6760, 6808, 7136, 7196, 8048, 8180, 8312, 8660, 8744, 8768, 8912, 9188, 9260, 9512, 9716];
const adc6605 = [252, 288, 2292, 2532, 3000, 3300, 4012, 4192, 4408, 4912, 5584, 5752, 5776, 7268, 8408, 8432, 9236, 9668, 9716];
const adc6604 = [408, 1128, 1752, 2340, 2424, 2844, 6172, 6772, 8996];
const adc6603 = [1668, 2472, 2760, 3520, 4228, 4420, 5248, 5752, 7232, 7568, 7892, 8792];
const adc6602 = [360, 2772, 3048, 3484, 4000, 5272, 6496, 8216, 9620];
const adc6601 = [5452, 5524, 7688, 8396];
const adc6600 = [936, 3000];
const adc6599 = [2664, 3228];
const adc6598 = [8324];
const adc6597 = [9080];

const levels: [number, number[]][] = [
  [6657, adc6657], [6654, adc6654], [6652, adc6652], [6651, adc6651], [6650, adc6650],
  [6649, adc6649], [6648, adc6648], [6647, adc6647], [6646, adc6646], [6645, adc6645],
  [6644, adc6644], [6643, adc6643], [6642, adc6642], [6641, adc6641], [6640, adc6640],
  [6639, adc6639], [6638, adc6638], [6637, adc6637], [6636, adc6636], [6635, adc6635],
  [6634, adc6634], [6633, adc6633], [6632, adc6632], [6631, adc6631], [6630, adc6630],
  [6629, adc6629], [6628, adc6628], [6627, adc6627], [6626, adc6626], [6625, adc6625],
  [6624, adc6624], [6623, adc6623], [6622, adc6622], [6621, adc6621], [6620, adc6620],
  [6619, adc6619], [6618, adc6618], [6617, adc6617], [6616, adc6616], [6615, adc6615],
  [6614, adc6614], [6613, adc6613], [6612, adc6612], [6611, adc6611], [6610, adc6610],
  [6609, adc6609], [6608, adc6608], [6607, adc6607], [6606, adc6606], [6605, adc6605],
  [6604, adc6604], [6603, adc6603], [6602, adc6602], [6601, adc6601], [6600, adc6600],
  [6599, adc6599], [6598, adc6598], [6597, adc6597],
];

const xTicks = [0, 2000, 4000, 6000, 8000, 10000];
const yTicks = [6600, 6610, 6620, 6630, 6640, 6650, 6660];

const App = () => {
  const svgRef = useRef<SVGSVGElement | null>(null);

  useEffect(() => {
    const svg = d3.select(svgRef.current);
    svg.selectAll("*").remove();

    const font = "'DejaVu Sans', sans-serif";
    const left = 81;
    const right = 985;
    const top = 36;
    const bottom = 941;

    const x = d3.scaleLinear().domain([-483, 10342]).range([left, right]);
    const y = d3.scaleLinear().domain([6594.05, 6660]).range([bottom, top]);

    // Grid
    const grid = svg.append("g").attr("stroke", "#b0b0b0").attr("stroke-width", 1.1);
    grid
      .selectAll("line.gx")
      .data(xTicks)
      .enter()
      .append("line")
      .attr("x1", (d) => x(d))
      .attr("x2", (d) => x(d))
      .attr("y1", top)
      .attr("y2", bottom);
    grid
      .selectAll("line.gy")
      .data(yTicks)
      .enter()
      .append("line")
      .attr("x1", left)
      .attr("x2", right)
      .attr("y1", (d) => y(d))
      .attr("y2", (d) => y(d));

    // Samples
    const points = levels.flatMap(([adc, samples]) => samples.map((s) => ({ s, adc })));
    svg
      .append("g")
      .selectAll("circle")
      .data(points)
      .enter()
      .append("circle")
      .attr("cx", (d) => x(d.s))
      .attr("cy", (d) => y(d.adc))
      .attr("r", 3)
      .attr("fill", "#000");

    // Axes
    const xAxis = svg
      .append("g")
      .attr("transform", `translate(0,${bottom})`)
      .call(d3.axisBottom(x).tickValues(xTicks).tickFormat(d3.format("d")).tickSize(4.9).tickPadding(4.5));
    const yAxis = svg
      .append("g")
      .attr("transform", `translate(${left},0)`)
      .call(d3.axisLeft(y).tickValues(yTicks).tickFormat(d3.format("d")).tickSize(4.9).tickPadding(4.5));
    [xAxis, yAxis].forEach((a) => {
      a.selectAll("text").style("font-family", font).style("font-size", "13.89px").attr("fill", "#000");
      a.selectAll("line").attr("stroke", "#000").attr("stroke-width", 1.1);
      a.select(".domain").remove();
    });

    // Frame
    svg
      .append("rect")
      .attr("x", left)
      .attr("y", top)
      .attr("width", right - left)
      .attr("height", bottom - top)
      .attr("fill", "none")
      .attr("stroke", "#000")
      .attr("stroke-width", 1.1);

    // Labels
    svg
      .append("text")
      .attr("x", (left + right) / 2)
      .attr("y", 27)
      .attr("text-anchor", "middle")
      .style("font-family", font)
      .style("font-size", "16.67px")
      .text("Run 649, channel119, Pedestal");
    svg
      .append("text")
      .attr("x", (left + right) / 2)
      .attr("y", 982)
      .attr("text-anchor", "middle")
      .style("font-family", font)
      .style("font-size", "13.89px")
      .text("Sample #");
    svg
      .append("text")
      .attr("transform", `translate(25,${(top + bottom) / 2}) rotate(-90)`)
      .attr("text-anchor", "middle")
      .style("font-family", font)
      .style("font-size", "13.89px")
      .text("ADC Counts");

    // Legend
    const legend = svg.append("g");
    legend
      .append("rect")
      .attr("x", 772.5)
      .attr("y", 42.5)
      .attr("width", 206)
      .attr("height", 45)
      .attr("rx", 3)
      .attr("fill", "#fff")
      .attr("fill-opacity", 0.8)
      .attr("stroke", "#ccc")
      .attr("stroke-width", 1.1);
    legend.append("circle").attr("cx", 791.3).attr("cy", 65.3).attr("r", 3).attr("fill", "#000");
    legend
      .append("text")
      .attr("x", 816.5)
      .attr("y", 59)
      .style("font-family", font)
      .style("font-size", "13.89px")
      .text("Samples");
    const stat = legend
      .append("text")
      .attr("x", 816.5)
      .attr("y", 75.5)
      .style("font-family", font)
      .style("font-size", "13.89px");
    stat.append("tspan").style("font-style", "italic").text("μ");
    stat.append("tspan").text(" = 6625.58, ");
    stat.append("tspan").style("font-style", "italic").text("σ");
    stat.append("tspan").text(" = 7.92");
  }, []);

  return (
    <svg
      ref={svgRef}
      width="1000"
      height="1000"
      style={{ position: "absolute", left: 0, top: 0, background: "#fff" }}
    ></svg>
  );
};

export default App;
